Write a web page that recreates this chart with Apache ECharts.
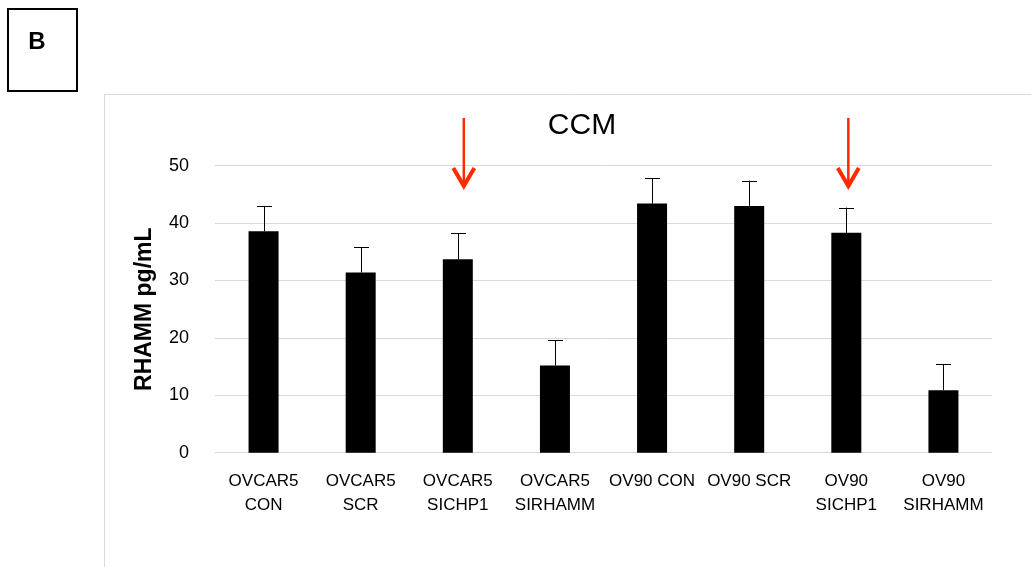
<!DOCTYPE html>
<html>
<head>
<meta charset="utf-8">
<script src="https://cdn.jsdelivr.net/npm/echarts@6/dist/echarts.min.js"></script>
<style>
html,body{margin:0;padding:0;background:#fff;}
#c{width:1031px;height:567px;}
</style>
</head>
<body>
<div id="c"></div>
<script>
const categories = ['OVCAR5\nCON', 'OVCAR5\nSCR', 'OVCAR5\nSICHP1', 'OVCAR5\nSIRHAMM', 'OV90 CON', 'OV90 SCR', 'OV90\nSICHP1', 'OV90\nSIRHAMM'];
const means = [38.6, 31.4, 33.7, 15.2, 43.4, 43.0, 38.3, 10.9];
const errors = [4.4, 4.4, 4.5, 4.4, 4.4, 4.4, 4.4, 4.5];
const yTicks = { min: 0, max: 50, interval: 10 };
const arrowCategories = [2, 6];
const titleText = 'CCM';
const yName = 'RHAMM pg/mL';
const panelLetter = 'B';

const FONT = 'Liberation Sans';
const errData = means.map((m, i) => [i, m, m + errors[i]]);

const chart = echarts.init(document.getElementById('c'), null, { renderer: 'canvas' });

chart.setOption({
  animation: false,
  backgroundColor: '#fff',
  title: {
    text: titleText,
    left: 577,
    top: 106,
    textAlign: 'center',
    textStyle: { fontFamily: FONT, fontSize: 30, fontWeight: 'normal', color: '#000' }
  },
  grid: { left: 215, right: 39, top: 165.7, bottom: 114.3, containLabel: false },
  xAxis: {
    type: 'category',
    data: categories,
    axisLine: { show: true, lineStyle: { color: '#d9d9d9', width: 1 } },
    axisTick: { show: false },
    axisLabel: {
      interval: 0, margin: 17, color: '#000',
      fontFamily: FONT, fontSize: 17, lineHeight: 24
    }
  },
  yAxis: {
    type: 'value',
    min: yTicks.min, max: yTicks.max, interval: yTicks.interval,
    name: yName,
    nameLocation: 'middle',
    nameGap: 59,
    nameRotate: 90,
    nameTextStyle: { fontFamily: FONT, fontSize: 23, fontWeight: 'bold', color: '#000' },
    axisLine: { show: false },
    axisTick: { show: false },
    axisLabel: { margin: 26, color: '#000', fontFamily: FONT, fontSize: 18 },
    splitLine: { lineStyle: { color: '#d9d9d9', width: 1 } }
  },
  series: [
    {
      type: 'bar',
      data: means,
      barWidth: 30,
      itemStyle: { color: '#000' },
      z: 2
    },
    {
      type: 'custom',
      data: errData,
      z: 3,
      renderItem: function (params, api) {
        const base = api.coord([api.value(0), api.value(1)]);
        const top = api.coord([api.value(0), api.value(2)]);
        const x = Math.round(base[0]) + 0.5;
        const style = { stroke: '#000', lineWidth: 1 };
        return {
          type: 'group',
          children: [
            { type: 'line', shape: { x1: x, y1: base[1], x2: x, y2: top[1] }, style: style },
            { type: 'line', shape: { x1: x - 7.5, y1: Math.round(top[1]) + 0.5, x2: x + 7.5, y2: Math.round(top[1]) + 0.5 }, style: style }
          ]
        };
      }
    }
  ]
});

const arrowOffsets = [6, 2];
const arrows = arrowCategories.map((c, k) => {
  const x = chart.convertToPixel({ xAxisIndex: 0 }, c) + arrowOffsets[k];
  return {
    type: 'group',
    children: [
      { type: 'line', shape: { x1: x, y1: 118, x2: x, y2: 184 }, style: { stroke: '#ff2a00', lineWidth: 2.5 } },
      { type: 'polyline', shape: { points: [[x - 10.5, 168], [x, 186], [x + 10.5, 168]] }, style: { stroke: '#ff2a00', lineWidth: 4, fill: null, lineJoin: 'miter', lineCap: 'butt' } }
    ]
  };
});

chart.setOption({
  graphic: [
    { type: 'rect', shape: { x: 104.5, y: 94.5, width: 1000, height: 600 }, style: { stroke: '#d9d9d9', fill: null, lineWidth: 1 }, z: -1, silent: true },
    { type: 'rect', shape: { x: 8, y: 9, width: 69, height: 82 }, style: { stroke: '#000', fill: null, lineWidth: 2 } },
    { type: 'text', x: 37, y: 42, style: { text: panelLetter, fontFamily: FONT, fontSize: 24, fontWeight: 'bold', fill: '#000', textAlign: 'center', textVerticalAlign: 'middle' } }
  ].concat(arrows)
});
</script>
</body>
</html>
